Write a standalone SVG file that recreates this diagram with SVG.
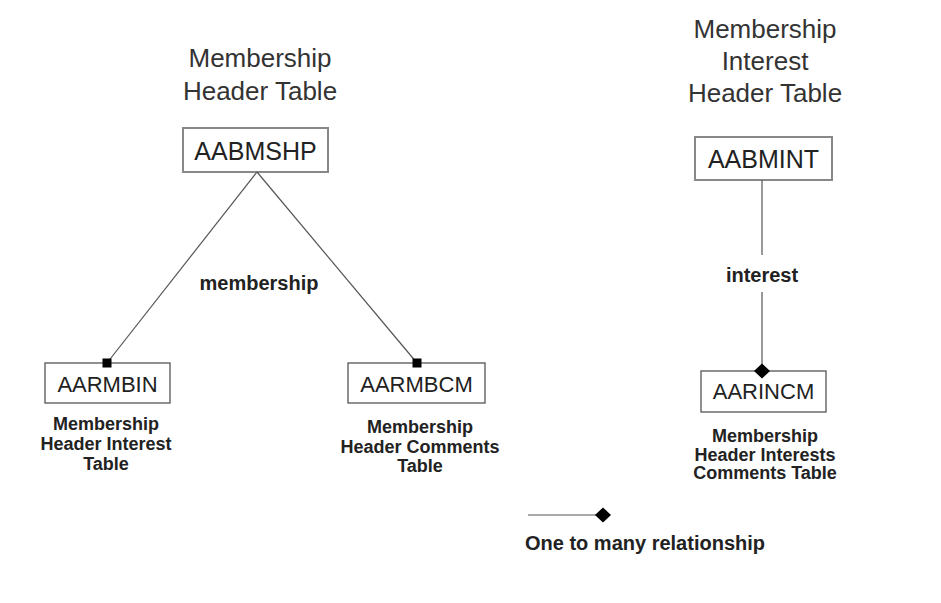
<svg xmlns="http://www.w3.org/2000/svg" width="941" height="603" viewBox="0 0 941 603">
  <style>
    text { font-family: "Liberation Sans", Arial, sans-serif; text-anchor: middle; }
    .title { font-size: 26px; fill: #333; }
    .code-top { font-size: 25px; fill: #222; }
    .code { font-size: 22px; fill: #222; }
    .caption { font-size: 18px; font-weight: bold; fill: #222; }
    .rel { font-size: 20px; font-weight: bold; fill: #222; }
    .box-top { fill: #fff; stroke: #888; stroke-width: 2; }
    .box { fill: #fff; stroke: #555; stroke-width: 1.3; }
    .link { stroke: #555; stroke-width: 1.2; fill: none; }
  </style>
  <defs>
    <marker id="many-square" viewBox="-5 -5 10 10" markerWidth="10" markerHeight="10" refX="0" refY="0" orient="0" markerUnits="userSpaceOnUse">
      <rect x="-4.5" y="-4.5" width="9" height="9" fill="#000"/>
    </marker>
    <marker id="many-diamond" viewBox="-8 -8 16 16" markerWidth="16" markerHeight="16" refX="0" refY="0" orient="0" markerUnits="userSpaceOnUse">
      <polygon points="0,-7.5 8,0 0,7.5 -8,0" fill="#000"/>
    </marker>
  </defs>

  <!-- table titles -->
  <g id="title-membership-header">
    <text class="title" x="260" y="67">Membership</text>
    <text class="title" x="260" y="100">Header Table</text>
  </g>
  <g id="title-membership-interest-header">
    <text class="title" x="765" y="38">Membership</text>
    <text class="title" x="765" y="70">Interest</text>
    <text class="title" x="765" y="102">Header Table</text>
  </g>

  <!-- tables -->
  <g id="AABMSHP">
    <rect class="box-top" x="183" y="128" width="145" height="44"/>
    <text class="code-top" x="255.5" y="160">AABMSHP</text>
  </g>
  <g id="AABMINT">
    <rect class="box-top" x="695" y="137" width="137" height="43"/>
    <text class="code-top" x="763.5" y="168">AABMINT</text>
  </g>
  <g id="AARMBIN">
    <rect class="box" x="45" y="363" width="125" height="40"/>
    <text class="code" x="107.5" y="392">AARMBIN</text>
    <text class="caption" x="106" y="430">Membership</text>
    <text class="caption" x="106" y="450">Header Interest</text>
    <text class="caption" x="106" y="470">Table</text>
  </g>
  <g id="AARMBCM">
    <rect class="box" x="348" y="363" width="137" height="40"/>
    <text class="code" x="416.5" y="392">AARMBCM</text>
    <text class="caption" x="420" y="433">Membership</text>
    <text class="caption" x="420" y="453">Header Comments</text>
    <text class="caption" x="420" y="472">Table</text>
  </g>
  <g id="AARINCM">
    <rect class="box" x="701" y="371" width="125" height="41"/>
    <text class="code" x="763.5" y="399">AARINCM</text>
    <text class="caption" x="765" y="442">Membership</text>
    <text class="caption" x="765" y="460.5">Header Interests</text>
    <text class="caption" x="765" y="479">Comments Table</text>
  </g>

  <!-- connectors, drawn over the table boxes so the end markers stay whole -->
  <g id="connectors">
    <line class="link" x1="257" y1="172" x2="107" y2="363" marker-end="url(#many-square)"/>
    <line class="link" x1="257" y1="172" x2="417" y2="363" marker-end="url(#many-square)"/>
    <text class="rel" x="259" y="290">membership</text>
    <line class="link" x1="762" y1="180" x2="762" y2="255"/>
    <line class="link" x1="762" y1="292" x2="762" y2="371" marker-end="url(#many-diamond)"/>
    <text class="rel" x="762" y="282">interest</text>
  </g>

  <!-- legend -->
  <g id="legend">
    <line class="link" x1="528" y1="515" x2="603" y2="515" marker-end="url(#many-diamond)"/>
    <text class="rel" x="645" y="550">One to many relationship</text>
  </g>
</svg>
